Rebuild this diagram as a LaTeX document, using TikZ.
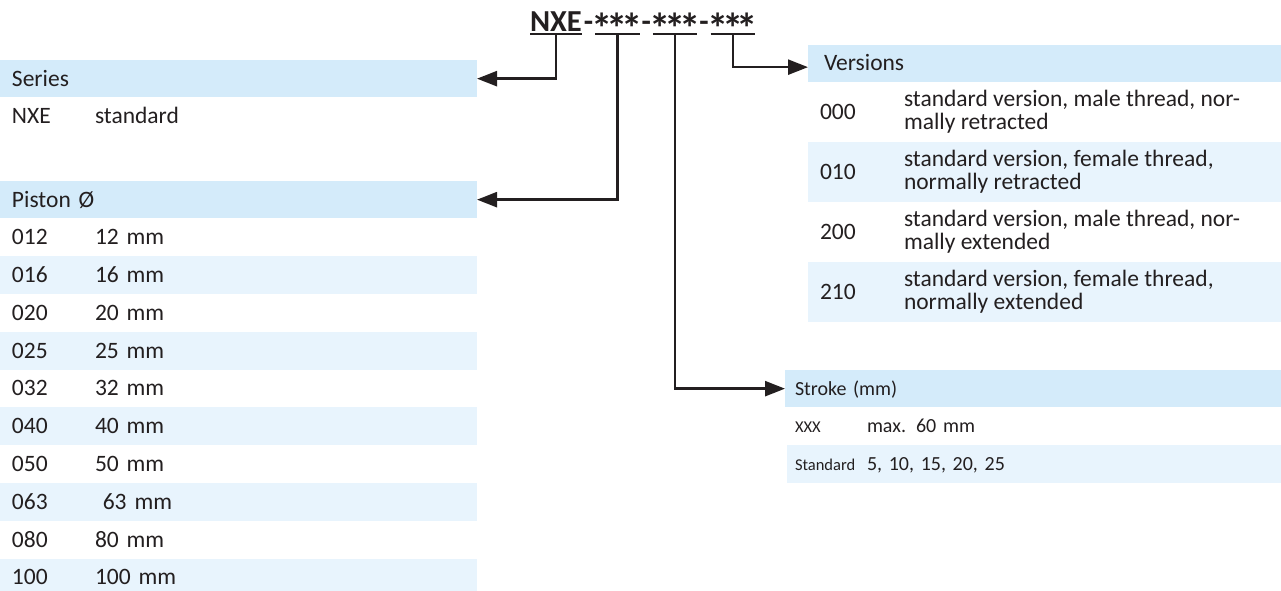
\documentclass[tikz,border=0pt]{standalone}
\usepackage{fontspec}
\setmainfont{Carlito}
\usepackage{tikz}
\usetikzlibrary{arrows.meta,positioning}
\definecolor{headblue}{RGB}{212,235,250}
\definecolor{rowblue}{RGB}{232,244,253}
\definecolor{ink}{RGB}{35,31,32}
\newcommand{\codestar}{\makebox[14.8pt]{\raisebox{-12.5pt}{\scalebox{1.4}{*}}}}

\begin{document}
\begin{tikzpicture}[x=1pt, y=-1pt, >={Triangle[length=20pt,width=15pt]},
  every node/.style={inner sep=0pt, outer sep=0pt, text=ink},
  code/.style={font=\fontsize{30.5}{32}\selectfont\bfseries},
  hyph/.style={code, inner xsep=2pt},
  uline/.style={draw=ink, line width=2.5pt},
  conn/.style={draw=ink, line width=2.5pt, ->},
  big/.style={font=\fontsize{23.5}{23}\selectfont, text height=17pt, text depth=2pt},
  mid/.style={font=\fontsize{20}{22}\selectfont, text height=15pt, text depth=2pt},
  head/.style={fill=headblue, minimum height=37.3pt, align=left},
  lrow/.style={big, minimum height=37.8pt, text width=453pt, inner xsep=12pt, align=left},
  vrow/.style={font=\fontsize{23.5}{23}\selectfont, minimum height=60pt, minimum width=473pt, inner xsep=12pt},
  srow/.style={mid, minimum height=37.7pt, text width=480pt, inner xsep=8pt, align=left}]
\useasboundingbox (0,0) rectangle (1281,590);
\clip (0,0) rectangle (1281,590);

% type code
\node[code, anchor=base west] (nxe) at (530,31) {NXE};
\node[hyph, base right=0pt of nxe] (d1) {-};
\node[code, base right=0pt of d1] (pa) {\codestar\codestar\codestar};
\node[hyph, base right=0pt of pa] (d2) {-};
\node[code, base right=0pt of d2] (pb) {\codestar\codestar\codestar};
\node[hyph, base right=0pt of pb] (d3) {-};
\node[code, base right=0pt of d3] (pc) {\codestar\codestar\codestar};
\foreach \n in {nxe,pa,pb,pc}
  \draw[uline] ([yshift=-3pt]\n.base west) -- ([yshift=-3pt]\n.base east);

% series
\node[head, big, anchor=north west, text width=453pt, inner xsep=12pt] (series) at (0,60) {Series};
\node[lrow, below=0pt of series] (serrow) {\makebox[83pt][l]{NXE}standard};

% piston
\node[head, big, anchor=north west, text width=453pt, inner xsep=12pt, alias=pist0] (piston) at (0,181) {Piston Ø};
\foreach \c/\v [count=\i, remember=\i as \j (initially 0)] in {012/12 mm, 016/16 mm, 020/20 mm, 025/25 mm, 032/32 mm, 040/40 mm, 050/50 mm, 063/{\ 63 mm}, 080/80 mm, 100/100 mm} {
  \ifodd\i\relax\def\rowcol{white}\else\def\rowcol{rowblue}\fi
  \node[lrow, fill=\rowcol, below=0pt of pist\j] (pist\i) {\makebox[83pt][l]{\c}\v};
}

% versions
\node[head, big, anchor=north west, text width=441pt, inner xsep=16pt, alias=ver0] (versions) at (808,44.5) {Versions};
\foreach \c/\v [count=\i, remember=\i as \j (initially 0)] in {000/{standard version, male thread, nor-\\mally retracted}, 010/{standard version, female thread,\\normally retracted}, 200/{standard version, male thread, nor-\\mally extended}, 210/{standard version, female thread,\\normally extended}} {
  \ifodd\i\relax\def\rowcol{white}\else\def\rowcol{rowblue}\fi
  \node[vrow, fill=\rowcol, below=0pt of ver\j] (ver\i) {\parbox[c]{84pt}{\c}\parbox[c]{365pt}{\raggedright\v}};
}

% stroke
\node[head, mid, anchor=north west, text width=480pt, inner xsep=10pt, alias=str0] (stroke) at (785,370) {Stroke (mm)};
\foreach \c/\v [count=\i, remember=\i as \j (initially 0)] in {XXX/max. 60 mm, Standard/{5, 10, 15, 20, 25}} {
  \ifodd\i\relax\def\rowcol{white}\else\def\rowcol{rowblue}\fi
  \node[srow, fill=\rowcol, below=0pt of str\j] (str\i) {\makebox[72pt][l]{\fontsize{16.5}{18}\selectfont\c}\v};
}

\draw[conn] ([yshift=-3pt]nxe.base) |- (series.east);
\draw[conn] ([yshift=-3pt]pa.base) |- (piston.east);
\draw[conn] ([yshift=-3pt]pb.base) |- (stroke.west);
\draw[conn] ([yshift=-3pt]pc.base) |- ([yshift=-4pt]versions.west);
\end{tikzpicture}
\end{document}
